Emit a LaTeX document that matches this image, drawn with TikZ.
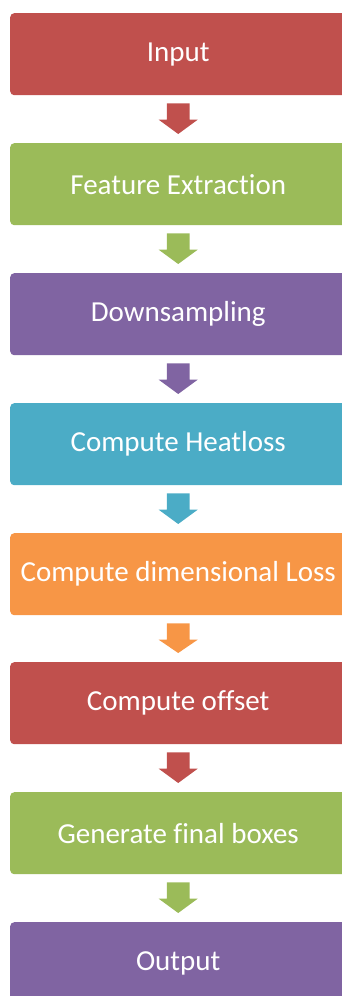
\documentclass[tikz,border=0pt]{standalone}
\usepackage{fontspec}
\setmainfont{Carlito}[Ligatures={NoCommon,NoDiscretionary,NoContextual}]
\usetikzlibrary{calc}
\definecolor{cRed}{HTML}{C0504D}
\definecolor{cGreen}{HTML}{9BBB59}
\definecolor{cPurple}{HTML}{8064A2}
\definecolor{cBlue}{HTML}{4BACC6}
\definecolor{cOrange}{HTML}{F79646}
\tikzset{
  stepbox/.style={rounded corners=4pt, minimum width=336pt, minimum height=82pt, inner sep=0pt,
    text=white, font=\fontsize{29}{34}\selectfont, anchor=north west},
}
\begin{document}
\begin{tikzpicture}[x=1pt,y=-1pt]
\useasboundingbox (0,0) rectangle (342,996);
\clip (0,0) rectangle (342,996);
\node[stepbox, fill=cRed]    (b1) at (10,13)  {Input};
\node[stepbox, fill=cGreen]  (b2) at (10,143) {Feature Extraction};
\node[stepbox, fill=cPurple] (b3) at (10,273) {Downsampling};
\node[stepbox, fill=cBlue]   (b4) at (10,403) {Compute Heatloss};
\node[stepbox, fill=cOrange] (b5) at (10,533) {Compute dimensional Loss};
\node[stepbox, fill=cRed]    (b6) at (10,662) {Compute offset};
\node[stepbox, fill=cGreen]  (b7) at (10,792) {Generate final boxes};
\node[stepbox, fill=cPurple] (b8) at (10,922) {Output};
\foreach \a/\b/\c in {b1/b2/cRed, b2/b3/cGreen, b3/b4/cPurple, b4/b5/cBlue, b5/b6/cOrange, b6/b7/cRed, b7/b8/cGreen}{
  \fill[\c] ($(\a.south)+(-11.3,8)$) -- ++(22.6,0) -- ++(0,16.3) -- ++(8.2,0)
    -- ($(\b.north)+(0,-9)$) -- ($(\a.south)+(-19.5,24.3)$) -- ++(8.2,0) -- cycle;
}
\end{tikzpicture}
\end{document}
